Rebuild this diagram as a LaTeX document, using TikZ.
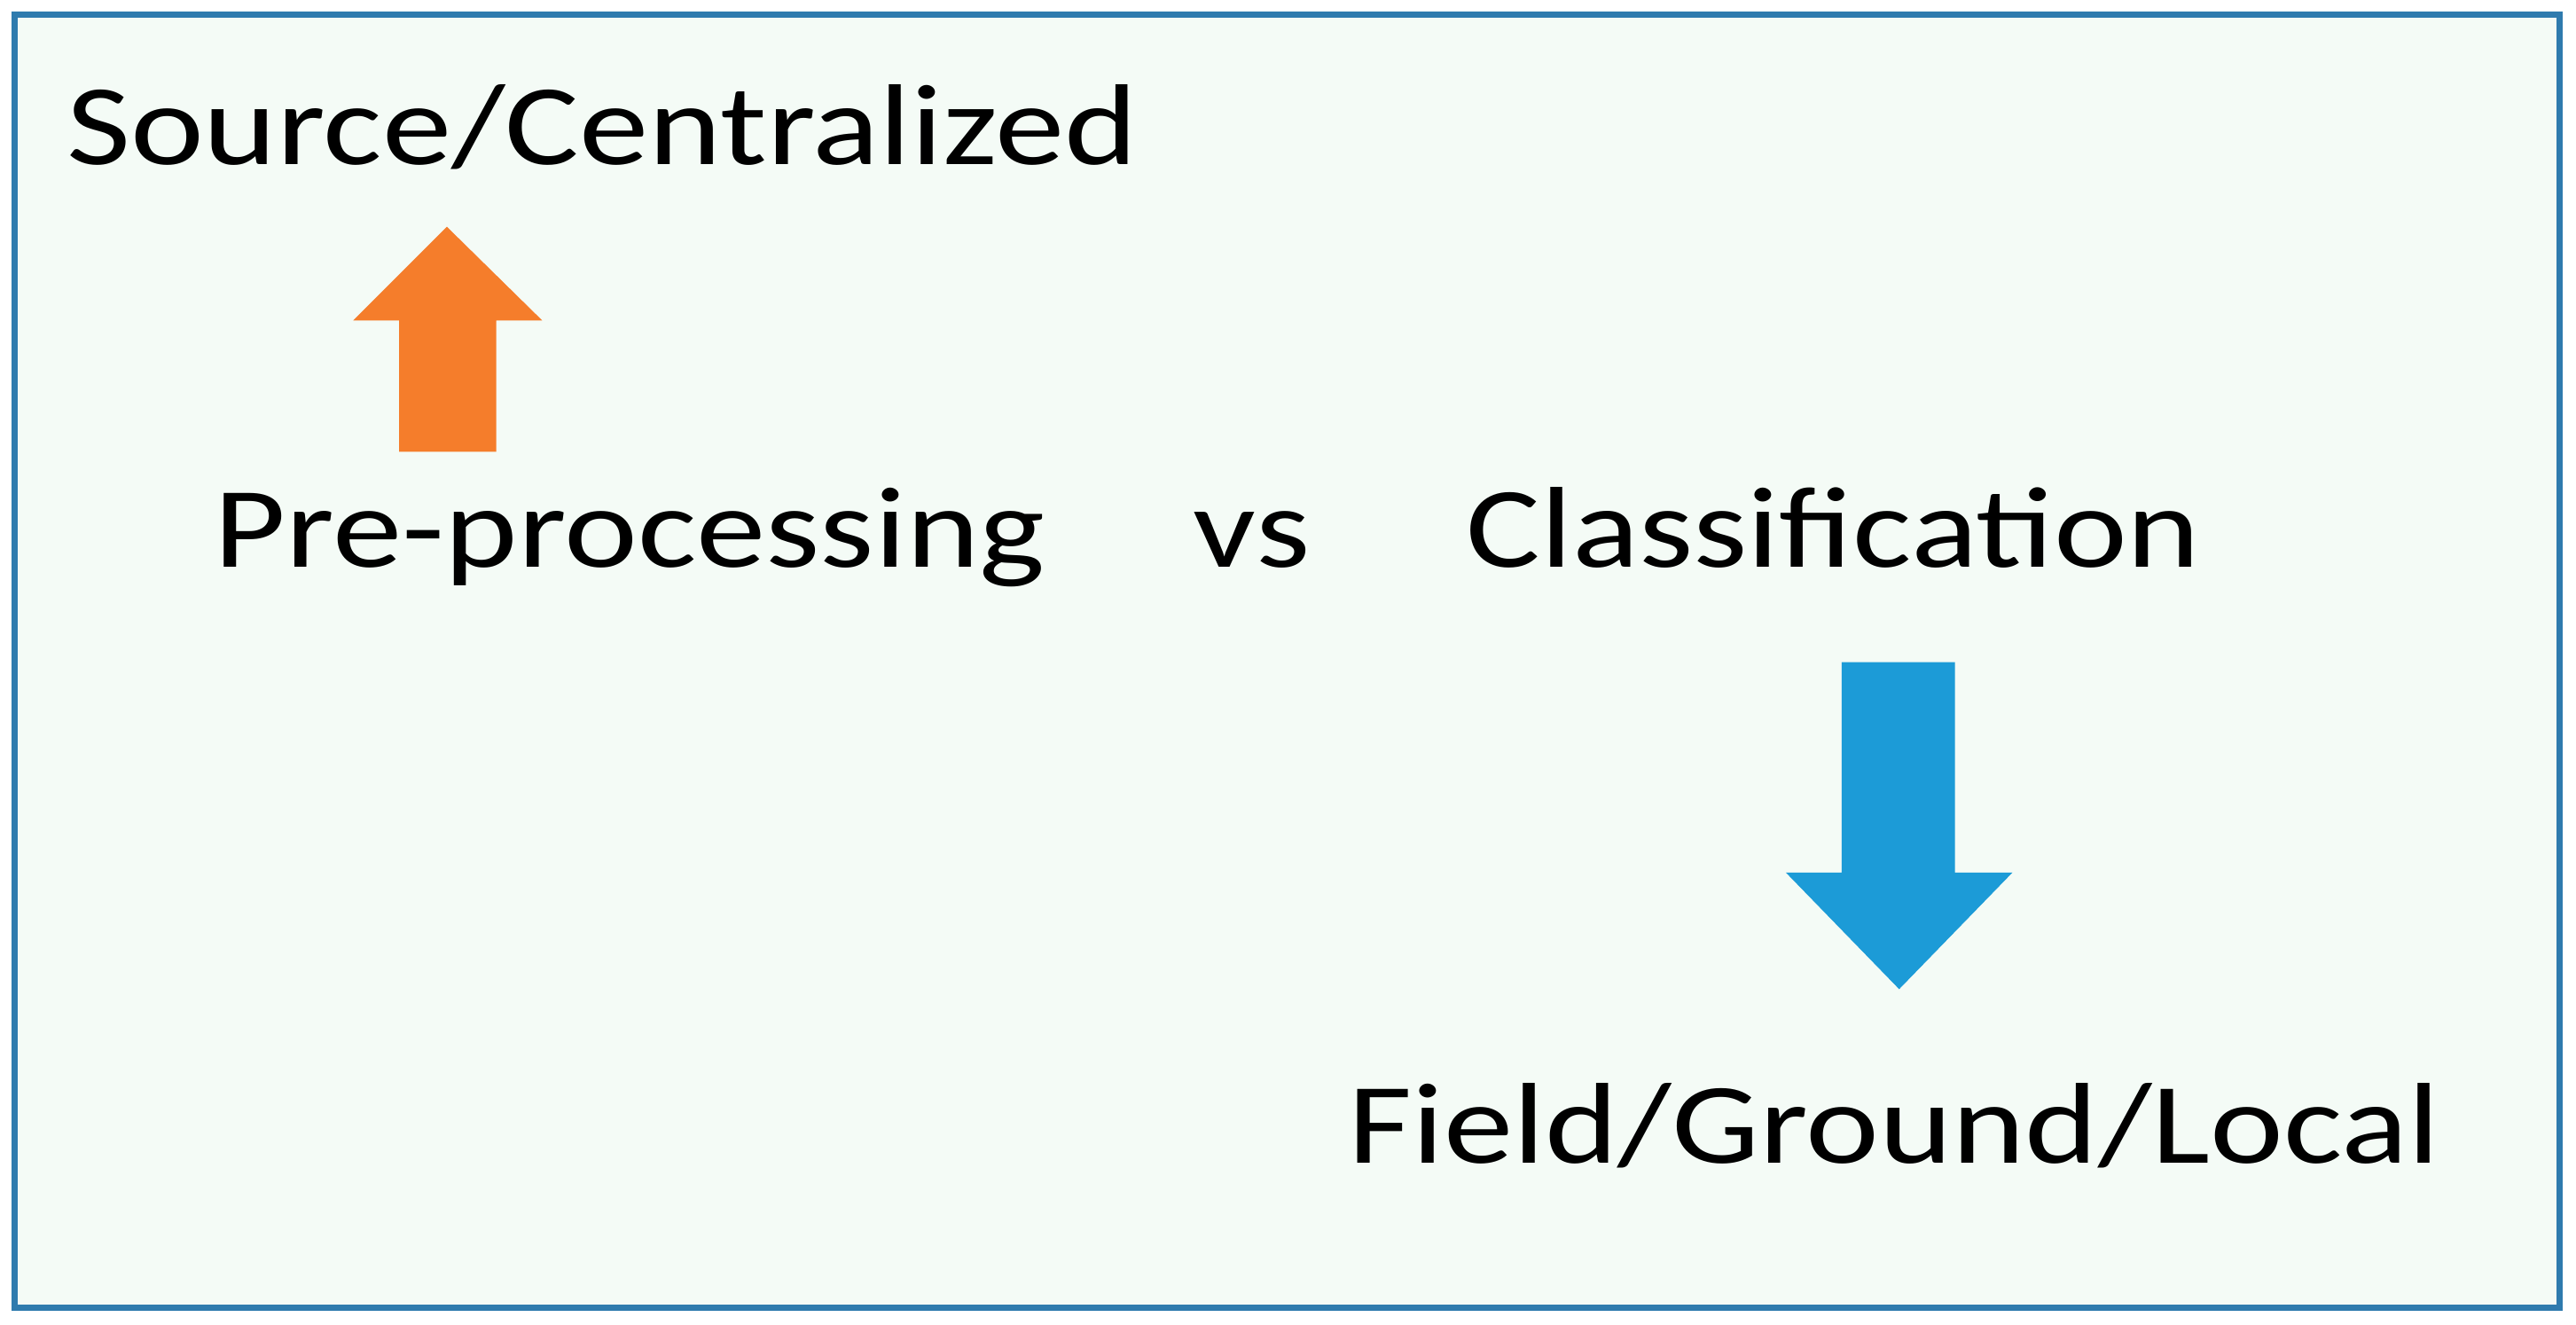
\documentclass[tikz,border=0pt]{standalone}
\usepackage{fontspec}
\setmainfont{Carlito}
\definecolor{frame}{HTML}{2F7BAE}
\definecolor{bg}{HTML}{F4FBF6}
\definecolor{orangearr}{HTML}{F57D2B}
\definecolor{bluearr}{HTML}{1C9BD7}
\tikzset{lbl/.style={anchor=base west,inner sep=0pt,xscale=1.21,transform shape,font=\fontsize{35}{40}\selectfont}}
\begin{document}
\begin{tikzpicture}[x=0.5pt,y=-0.5pt]
\useasboundingbox (0,0) rectangle (1568,806);
\fill[white] (0,0) rectangle (1568,806);
\draw[frame,line width=2pt,fill=bg] (9,9) rectangle (1558,796);
\node[lbl] (src) at (40,100) {Source/Centralized};
\node[lbl] (pre) at (130,345) {Pre-processing};
\node[lbl] (vs) at (726,345) {vs};
\node[lbl] (cls) at (892,345) {Classification};
\node[lbl] (fld) at (820,708) {Field/Ground/Local};
\fill[orangearr] (243,275) -- (243,195) -- (215,195) -- (272,138) -- (330,195) -- (302,195) -- (302,275) -- cycle;
\fill[bluearr] (1121,403) -- (1121,531) -- (1087,531) -- (1156,602) -- (1225,531) -- (1190,531) -- (1190,403) -- cycle;
\end{tikzpicture}
\end{document}
